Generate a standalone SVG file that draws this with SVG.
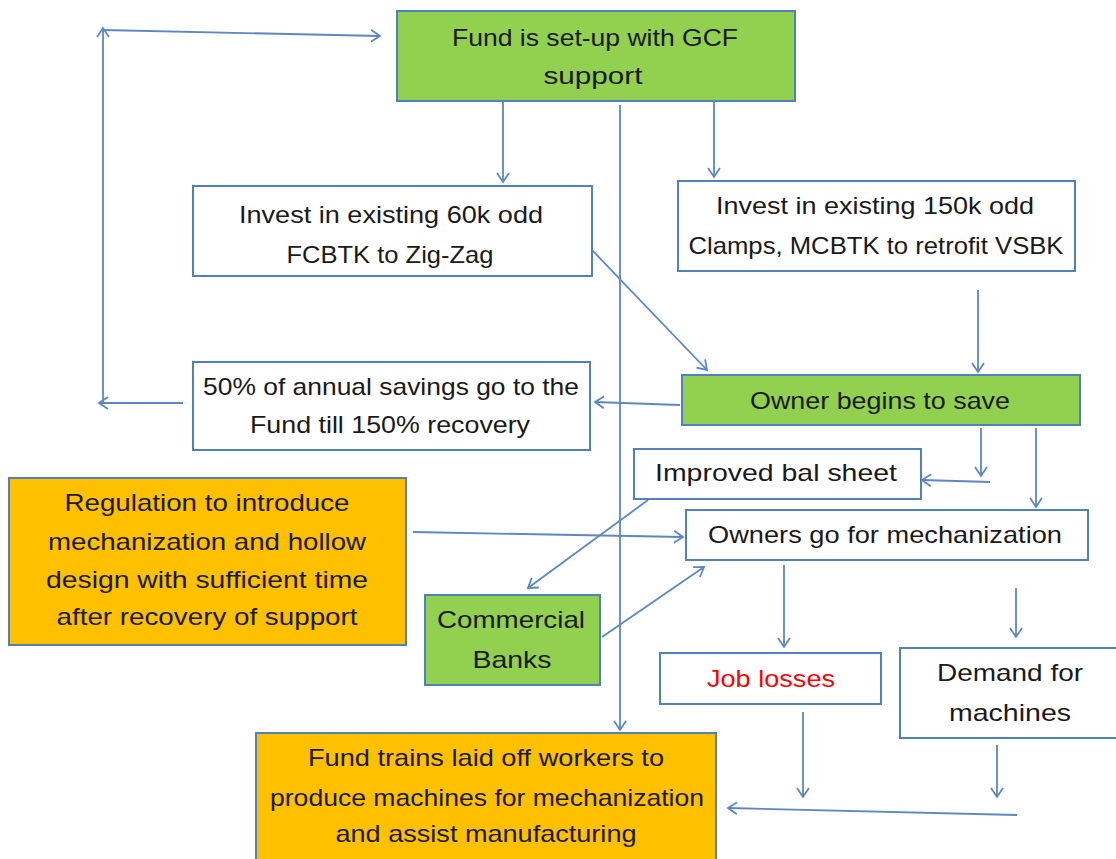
<svg xmlns="http://www.w3.org/2000/svg" width="1116" height="859" viewBox="0 0 1116 859">
<defs>
<marker id="ah" markerWidth="14" markerHeight="14" refX="11" refY="7" orient="auto" markerUnits="userSpaceOnUse">
<path d="M2,1 L11,7 L2,13" fill="none" stroke="#5B87C5" stroke-width="1.8"/>
</marker>
</defs>
<style>
.box{stroke:#4F81BD;stroke-width:2}
.w{fill:#ffffff}
.g{fill:#92D050}
.o{fill:#FFC000}
.t{font-family:"Liberation Sans",Arial,sans-serif;font-size:24px;fill:#1a1a1a;text-anchor:middle;dominant-baseline:central}
.c{fill:none;stroke:#5B87C5;stroke-width:1.8;marker-end:url(#ah)}
</style>
<rect width="1116" height="859" fill="#ffffff"/>
<g id="connectors">
<path class="c" d="M183,403 L99,403"/>
<path class="c" d="M103,403 L103,28"/>
<path class="c" d="M103,30 L380,36"/>
<path class="c" d="M503,101 L503,182"/>
<path class="c" d="M714,101 L714,177"/>
<path class="c" d="M620,105 L620,730"/>
<path class="c" d="M592,250 L707,370"/>
<path class="c" d="M978,290 L978,372"/>
<path class="c" d="M680,405 L595,402"/>
<path class="c" d="M981,428 L981,476"/>
<path class="c" d="M990,482 L922,480"/>
<path class="c" d="M1036,428 L1036,507"/>
<path class="c" d="M413,532 L683,537"/>
<path class="c" d="M648,500 L528,588"/>
<path class="c" d="M602,637 L704,567"/>
<path class="c" d="M784,565 L784,647"/>
<path class="c" d="M1016,588 L1016,637"/>
<path class="c" d="M803,712 L803,797"/>
<path class="c" d="M997,745 L997,797"/>
<path class="c" d="M1017,815 L728,808"/>
</g>
<g id="n1"><rect class="box g" x="397" y="11" width="398" height="90"/><text class="t" x="595" y="37" textLength="286" lengthAdjust="spacingAndGlyphs">Fund is set-up with GCF</text><text class="t" x="593" y="75" textLength="99" lengthAdjust="spacingAndGlyphs">support</text></g>
<g id="n2"><rect class="box w" x="193" y="186" width="399" height="90"/><text class="t" x="391" y="214" textLength="304" lengthAdjust="spacingAndGlyphs">Invest in existing 60k odd</text><text class="t" x="390" y="254" textLength="207" lengthAdjust="spacingAndGlyphs">FCBTK to Zig-Zag</text></g>
<g id="n3"><rect class="box w" x="678" y="181" width="397" height="90"/><text class="t" x="875" y="205" textLength="318" lengthAdjust="spacingAndGlyphs">Invest in existing 150k odd</text><text class="t" x="876" y="245" textLength="375" lengthAdjust="spacingAndGlyphs">Clamps, MCBTK to retrofit VSBK</text></g>
<g id="n4"><rect class="box g" x="682" y="375" width="398" height="50"/><text class="t" x="880" y="400" textLength="260" lengthAdjust="spacingAndGlyphs">Owner begins to save</text></g>
<g id="n5"><rect class="box w" x="193" y="362" width="397" height="88"/><text class="t" x="391" y="386" textLength="376" lengthAdjust="spacingAndGlyphs">50% of annual savings go to the</text><text class="t" x="390" y="424" textLength="280" lengthAdjust="spacingAndGlyphs">Fund till 150% recovery</text></g>
<g id="n6"><rect class="box w" x="634" y="449" width="287" height="50"/><text class="t" x="776" y="472" textLength="242" lengthAdjust="spacingAndGlyphs">Improved bal sheet</text></g>
<g id="n7"><rect class="box w" x="686" y="510" width="402" height="50"/><text class="t" x="885" y="534" textLength="354" lengthAdjust="spacingAndGlyphs">Owners go for mechanization</text></g>
<g id="n8"><rect class="box o" x="9" y="478" width="397" height="167"/><text class="t" x="207" y="502" textLength="285" lengthAdjust="spacingAndGlyphs">Regulation to introduce</text><text class="t" x="207" y="541" textLength="318" lengthAdjust="spacingAndGlyphs">mechanization and hollow</text><text class="t" x="207" y="579" textLength="322" lengthAdjust="spacingAndGlyphs">design with sufficient time</text><text class="t" x="207" y="616" textLength="301" lengthAdjust="spacingAndGlyphs">after recovery of support</text></g>
<g id="n9"><rect class="box g" x="425" y="595" width="175" height="90"/><text class="t" x="511" y="619" textLength="148" lengthAdjust="spacingAndGlyphs">Commercial</text><text class="t" x="512" y="659" textLength="79" lengthAdjust="spacingAndGlyphs">Banks</text></g>
<g id="n10"><rect class="box w" x="660" y="653" width="221" height="51"/><text class="t" x="771" y="678" textLength="128" lengthAdjust="spacingAndGlyphs" style="fill:#FF0000">Job losses</text></g>
<g id="n11"><rect class="box w" x="900" y="648" width="220" height="90"/><text class="t" x="1010" y="672" textLength="146" lengthAdjust="spacingAndGlyphs">Demand for</text><text class="t" x="1010" y="712" textLength="122" lengthAdjust="spacingAndGlyphs">machines</text></g>
<g id="n12"><rect class="box o" x="256" y="733" width="460" height="130"/><text class="t" x="486" y="757" textLength="356" lengthAdjust="spacingAndGlyphs">Fund trains laid off workers to</text><text class="t" x="487" y="797" textLength="434" lengthAdjust="spacingAndGlyphs">produce machines for mechanization</text><text class="t" x="486" y="833" textLength="301" lengthAdjust="spacingAndGlyphs">and assist manufacturing</text></g>
</svg>
